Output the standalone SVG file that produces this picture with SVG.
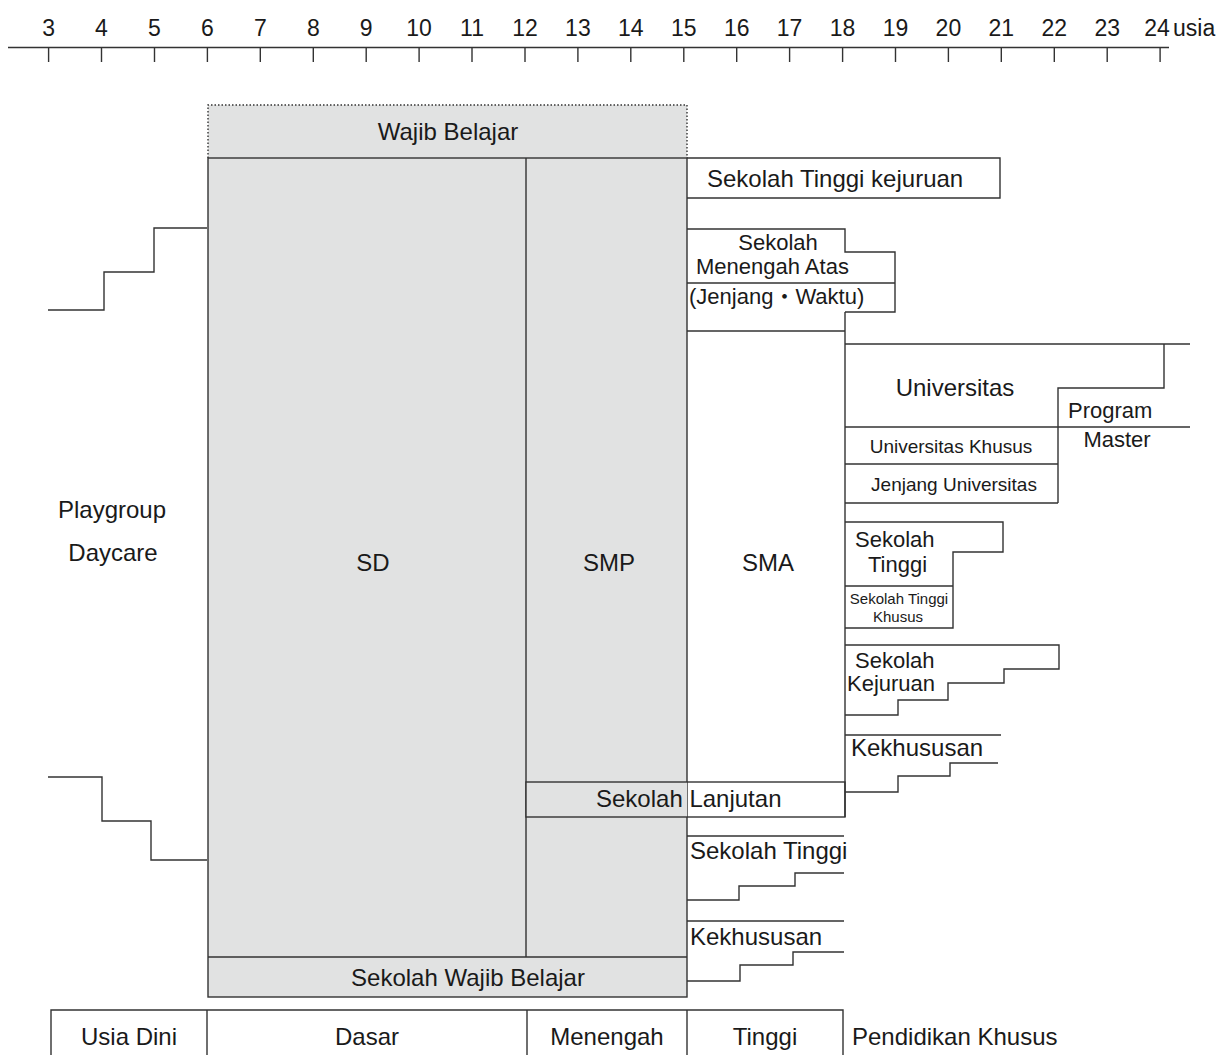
<svg xmlns="http://www.w3.org/2000/svg" width="1224" height="1055" viewBox="0 0 1224 1055">
<style>
text{font-family:"Liberation Sans","Noto Sans CJK JP",sans-serif;font-size:24px;fill:#1a1a1a}
.ln{fill:none;stroke:#333;stroke-width:1.4}
.g{fill:#e1e2e2}
.m{text-anchor:middle}
.ax{font-size:23px;text-anchor:middle}
.st{font-size:22px}
.s19{font-size:19px}
.s15{font-size:15px}
</style>
<rect width="1224" height="1055" fill="#fff"/>
<g id="axis">
<path class="ln" d="M8 47.5H1169M48.6 47.5V62M101.5 47.5V62M154.5 47.5V62M207.4 47.5V62M260.3 47.5V62M313.3 47.5V62M366.2 47.5V62M419.1 47.5V62M472 47.5V62M525 47.5V62M577.9 47.5V62M630.8 47.5V62M683.8 47.5V62M736.7 47.5V62M789.6 47.5V62M842.6 47.5V62M895.5 47.5V62M948.4 47.5V62M1001.3 47.5V62M1054.3 47.5V62M1107.2 47.5V62M1160.1 47.5V62"/>
<text class="ax" x="48.6" y="36">3</text>
<text class="ax" x="101.5" y="36">4</text>
<text class="ax" x="154.5" y="36">5</text>
<text class="ax" x="207.4" y="36">6</text>
<text class="ax" x="260.3" y="36">7</text>
<text class="ax" x="313.3" y="36">8</text>
<text class="ax" x="366.2" y="36">9</text>
<text class="ax" x="419.1" y="36">10</text>
<text class="ax" x="472" y="36">11</text>
<text class="ax" x="525" y="36">12</text>
<text class="ax" x="577.9" y="36">13</text>
<text class="ax" x="630.8" y="36">14</text>
<text class="ax" x="683.8" y="36">15</text>
<text class="ax" x="736.7" y="36">16</text>
<text class="ax" x="789.6" y="36">17</text>
<text class="ax" x="842.6" y="36">18</text>
<text class="ax" x="895.5" y="36">19</text>
<text class="ax" x="948.4" y="36">20</text>
<text class="ax" x="1001.3" y="36">21</text>
<text class="ax" x="1054.3" y="36">22</text>
<text class="ax" x="1107.2" y="36">23</text>
<text class="ax" x="1157" y="36">24</text>
<text x="1173" y="36" style="font-size:23px">usia</text>
</g>
<g id="wajib-belajar">
<rect class="g" x="208" y="105" width="479" height="53"/>
<path class="ln" d="M208 158V105H687V158" stroke-dasharray="1.5 2"/>
<text class="m" x="448" y="140">Wajib Belajar</text>
</g>
<g id="sd-smp-block">
<rect class="g" x="208" y="158" width="479" height="839"/>
<rect class="ln" x="208" y="158" width="479" height="839"/>
<path class="ln" d="M526 158V957M208 957H687"/>
<text class="m" x="373" y="571">SD</text>
<text class="m" x="609" y="571">SMP</text>
</g>
<g id="sekolah-lanjutan">
<rect class="g" x="526" y="782" width="161" height="35"/>
<rect class="ln" x="526" y="782" width="319" height="35"/>
<text x="596" y="807">Sekolah Lanjutan</text>
</g>
<g id="sekolah-wajib-belajar">
<text class="m" x="468" y="986">Sekolah Wajib Belajar</text>
</g>
<g id="sekolah-tinggi-kejuruan">
<path class="ln" d="M687 158H1000V198H687"/>
<text x="707" y="187">Sekolah Tinggi kejuruan</text>
</g>
<g id="sma-jenjang-waktu">
<path class="ln" d="M687 229H845V252H895V312H845M687 283H895"/>
<text class="st m" x="778" y="250">Sekolah</text>
<text class="st" x="696" y="274">Menengah Atas</text>
<text class="st" x="689" y="304">(Jenjang・Waktu)</text>
</g>
<g id="sma">
<path class="ln" d="M687 331H845M845 312V817"/>
<text class="m" x="768" y="571">SMA</text>
</g>
<g id="universitas">
<path class="ln" d="M845 344H1190M1164 344V388H1058V503M845 427H1190M845 464H1058M845 503H1058"/>
<text class="m" x="955" y="396">Universitas</text>
<text class="s19 m" x="951" y="453">Universitas Khusus</text>
<text class="s19 m" x="954" y="491">Jenjang Universitas</text>
</g>
<g id="program-master">
<text class="st" x="1068" y="418">Program</text>
<text class="st m" x="1117" y="447">Master</text>
</g>
<g id="sekolah-tinggi">
<path class="ln" d="M845 522H1003V552H953V628H845M845 586H953"/>
<text class="st" x="855" y="547">Sekolah</text>
<text class="st" x="868" y="572">Tinggi</text>
<text class="s15 m" x="899" y="604">Sekolah Tinggi</text>
<text class="s15 m" x="898" y="622">Khusus</text>
</g>
<g id="sekolah-kejuruan">
<path class="ln" d="M845 645H1059V669H1004V683H948V700H898V715H845"/>
<text class="st" x="855" y="668">Sekolah</text>
<text class="st" x="847" y="691">Kejuruan</text>
</g>
<g id="kekhususan-atas">
<path class="ln" d="M845 735H1001M998 763H950V776H898V792H845"/>
<text x="851" y="756">Kekhususan</text>
</g>
<g id="sekolah-tinggi-bawah">
<path class="ln" d="M687 836H844M844 873H795V886H739V900H687"/>
<text x="690" y="859">Sekolah Tinggi</text>
</g>
<g id="kekhususan-bawah">
<path class="ln" d="M687 921H844M844 952H793V965H740V981H687"/>
<text x="690" y="945">Kekhususan</text>
</g>
<g id="usia-dini">
<text class="m" x="112" y="518">Playgroup</text>
<text class="m" x="113" y="561">Daycare</text>
</g>
<g id="connectors">
<path class="ln" d="M48 310H104V272H154V228H207"/>
<path class="ln" d="M48 777H102V821H151V860H207"/>
</g>
<g id="jenjang-pendidikan">
<path class="ln" d="M51 1056V1010H843V1056M207 1010V1056M527 1010V1056M687 1010V1056"/>
<text class="m" x="129" y="1045">Usia Dini</text>
<text class="m" x="367" y="1045">Dasar</text>
<text class="m" x="607" y="1045">Menengah</text>
<text class="m" x="765" y="1045">Tinggi</text>
<text x="852" y="1045">Pendidikan Khusus</text>
</g>
</svg>
